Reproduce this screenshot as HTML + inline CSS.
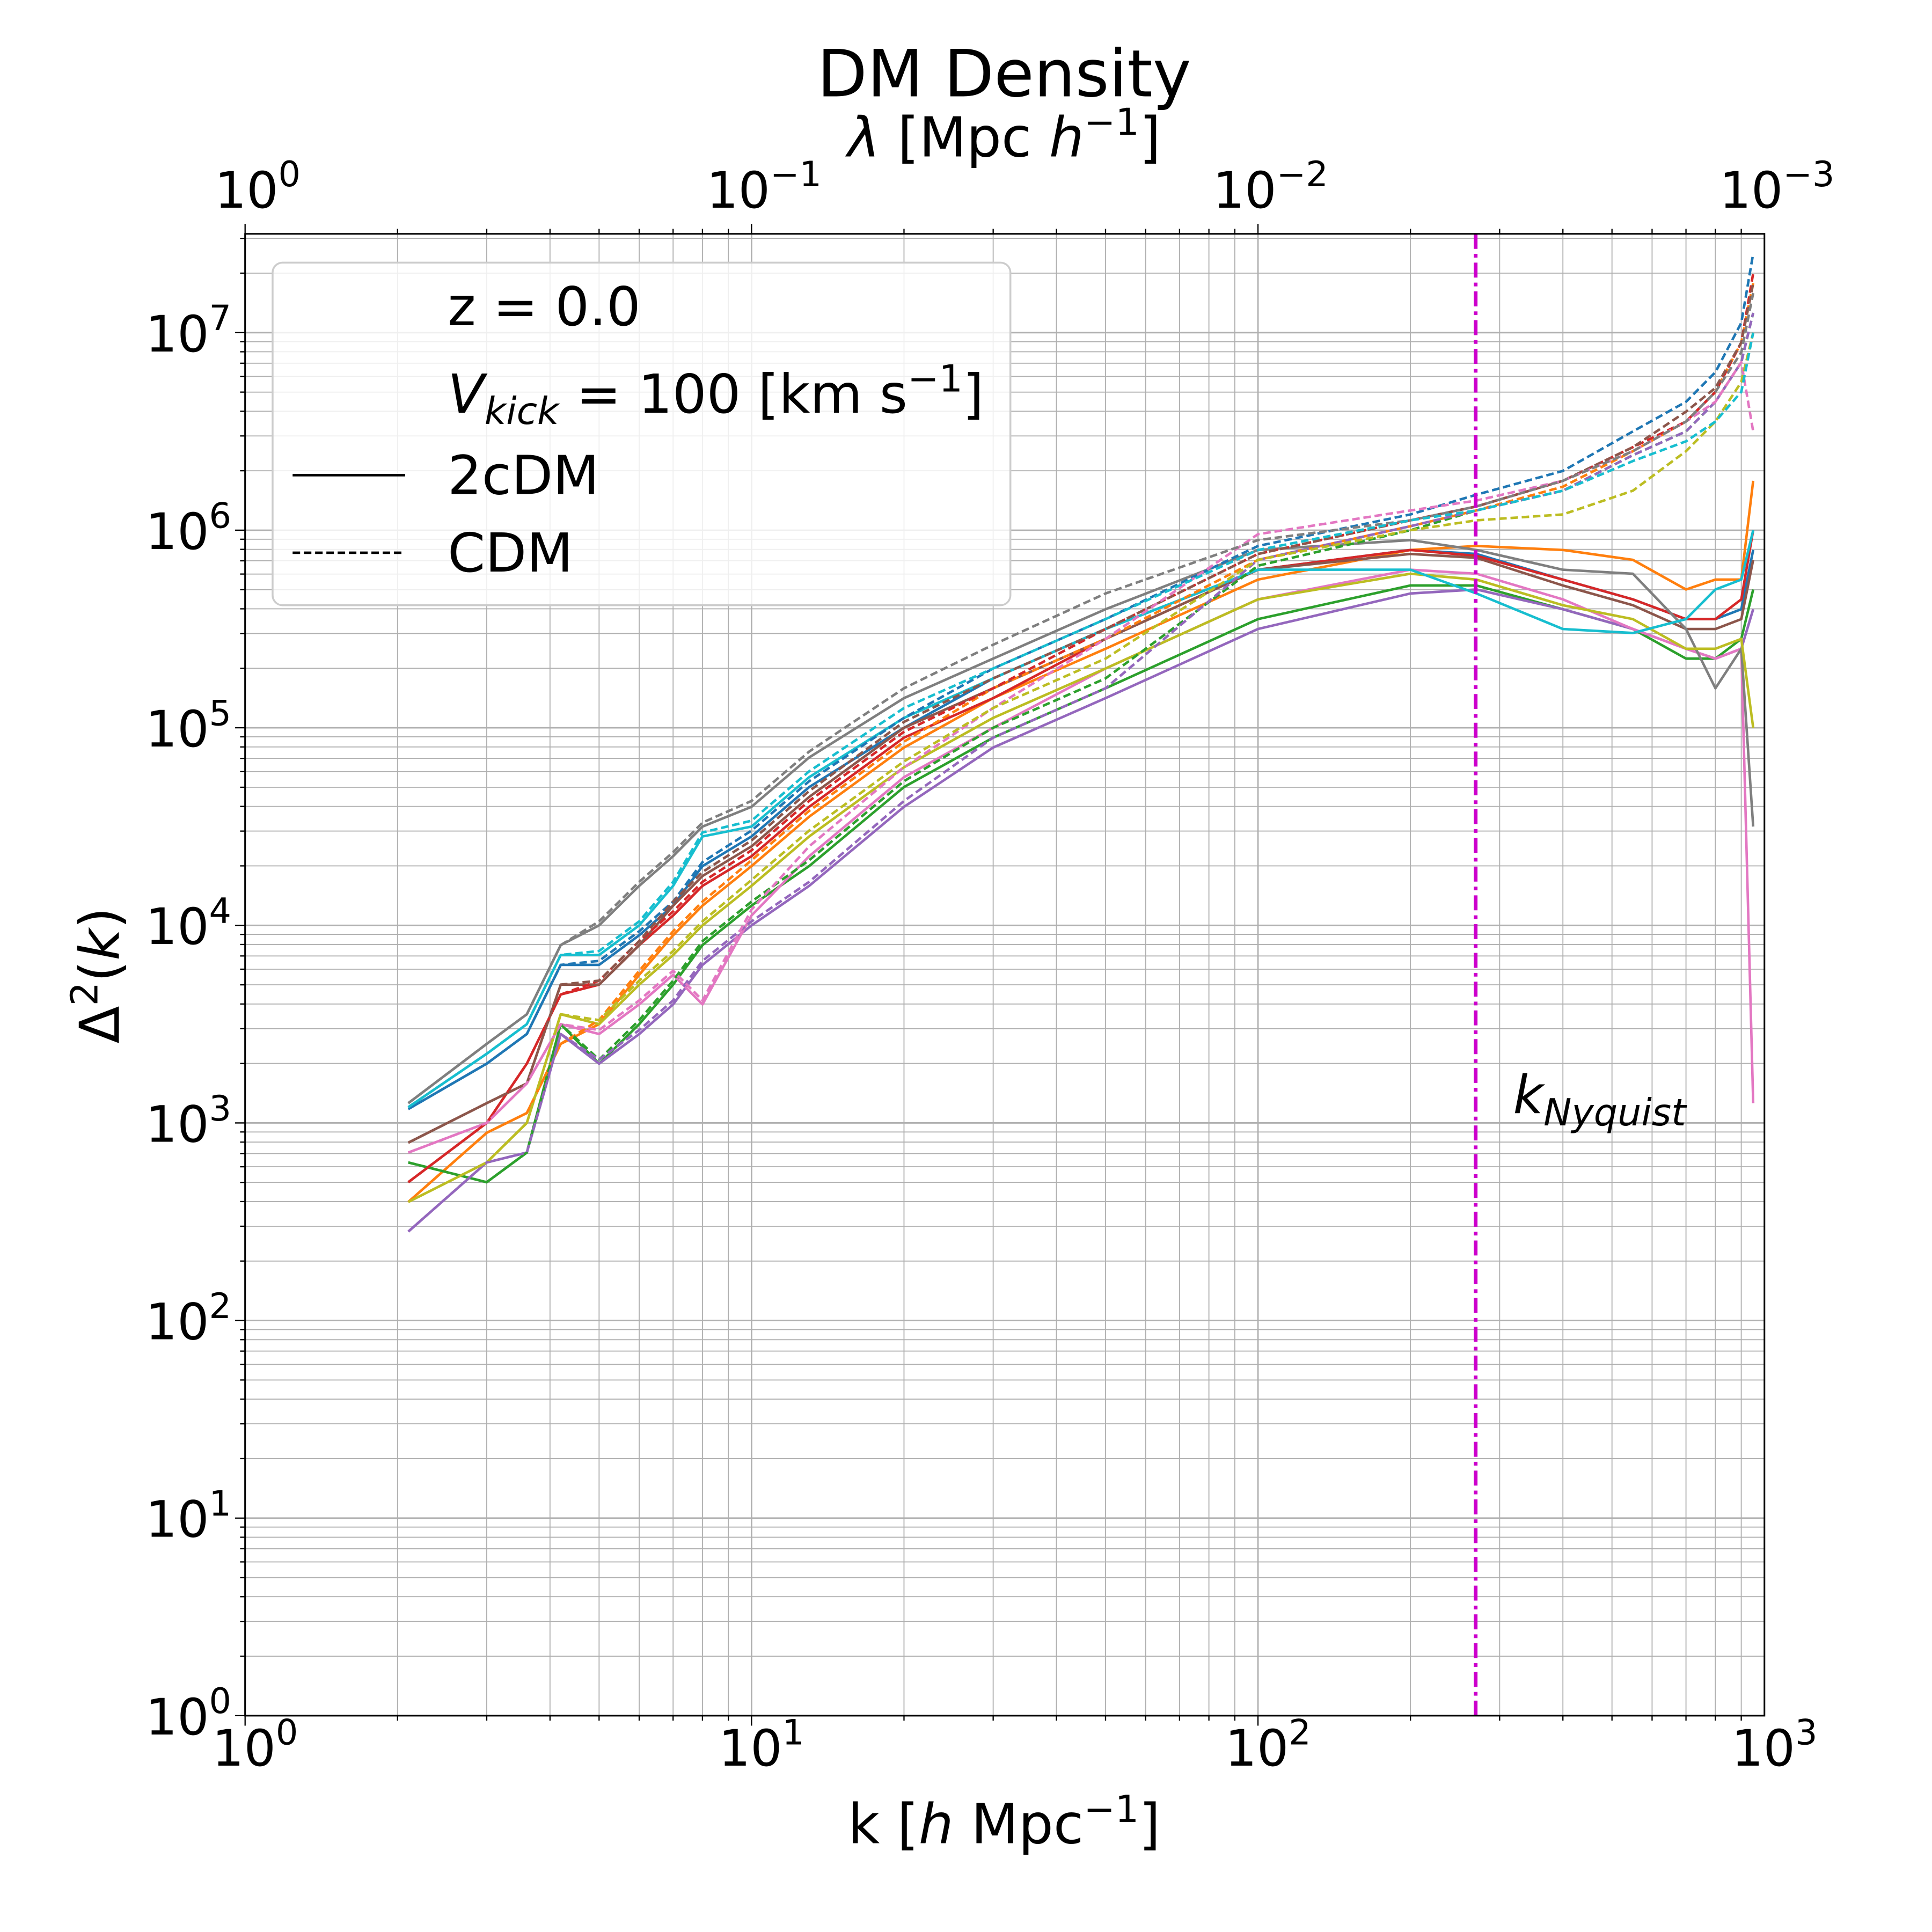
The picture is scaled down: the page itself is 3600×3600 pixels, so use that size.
<!DOCTYPE html>
<html><head><meta charset="utf-8"><style>html,body{margin:0;padding:0;background:#fff}svg{display:block}text{font-family:"DejaVu Sans","Liberation Sans",sans-serif}</style></head>
<body>
<svg id="chart" width="3600" height="3600" viewBox="0 0 1545 1545" xmlns="http://www.w3.org/2000/svg">
<rect width="1545" height="1545" fill="#fff"/>
<g id="grid"></g>
<g id="series"></g>
<g id="axes"></g>
<text x="803" y="77" font-size="52" text-anchor="middle">DM Density</text>
<text x="803" y="125" font-size="44" text-anchor="middle"><tspan font-style="italic">λ</tspan> [Mpc <tspan font-style="italic">h</tspan><tspan font-size="30" dy="-17">−1</tspan><tspan dy="17">]</tspan></text>
<text x="803" y="1474" font-size="44" text-anchor="middle">k [<tspan font-style="italic">h</tspan> Mpc<tspan font-size="30" dy="-17">−1</tspan><tspan dy="17">]</tspan></text>
<text transform="translate(95,780) rotate(-90)" font-size="44" text-anchor="middle">Δ<tspan font-size="30" dy="-17">2</tspan><tspan dy="17">(</tspan><tspan font-style="italic">k</tspan>)</text>
<g>
<rect x="218" y="210" width="590" height="274" rx="8" fill="#fff" fill-opacity="0.8" stroke="#ccc" stroke-width="1.5"/>
<text x="358" y="260" font-size="43">z = 0.0</text>
<text x="358" y="330" font-size="43"><tspan font-style="italic">V</tspan><tspan font-style="italic" font-size="30" dy="9">kick</tspan><tspan dy="-9"> = 100 [km s</tspan><tspan font-size="30" dy="-17">−1</tspan><tspan dy="17">]</tspan></text>
<line x1="234" y1="380" x2="324" y2="380" stroke="#000" stroke-width="2"/>
<text x="358" y="395" font-size="43">2cDM</text>
<line x1="234" y1="442" x2="324" y2="442" stroke="#000" stroke-width="2" stroke-dasharray="6,3"/>
<text x="358" y="457" font-size="43">CDM</text>
</g>
<text x="1210" y="890" font-size="42" font-style="italic">k<tspan font-size="30" dy="10">Nyquist</tspan></text>
<script>
const kGrid=[2.1,3,3.6,4.2,5,6,7,8,10,13,20,30,50,100,200,270,400,550,700,800,900,950];
const colors=["#1f77b4","#ff7f0e","#2ca02c","#d62728","#9467bd","#8c564b","#e377c2","#7f7f7f","#bcbd22","#17becf"];
const solidBlue=[3.07,3.3,3.45,3.8,3.8,3.95,4.1,4.3,4.45,4.7,5.0,5.25,5.5,5.8,5.9,5.88,5.75,5.65,5.55,5.55,5.6,5.9];
const solidOrange=[2.6,2.95,3.05,3.4,3.5,3.75,3.95,4.1,4.3,4.55,4.9,5.15,5.4,5.75,5.9,5.92,5.9,5.85,5.7,5.75,5.75,6.25];
const solidGreen=[2.8,2.7,2.85,3.5,3.3,3.5,3.7,3.9,4.1,4.3,4.7,4.95,5.2,5.55,5.72,5.72,5.6,5.5,5.35,5.35,5.45,5.7];
const solidRed=[2.7,3.0,3.3,3.65,3.7,3.9,4.05,4.2,4.35,4.6,4.95,5.15,5.45,5.8,5.9,5.87,5.75,5.65,5.55,5.55,5.65,6.0];
const solidPurple=[2.45,2.8,2.85,3.45,3.3,3.45,3.6,3.8,4.0,4.2,4.6,4.9,5.15,5.5,5.68,5.7,5.6,5.5,5.4,5.35,5.4,5.6];
const solidBrown=[2.9,3.1,3.2,3.7,3.7,3.9,4.1,4.25,4.4,4.65,5.0,5.2,5.45,5.8,5.88,5.86,5.72,5.62,5.5,5.5,5.55,5.85];
const solidPink=[2.85,3.0,3.2,3.5,3.45,3.6,3.75,3.6,4.05,4.35,4.75,5.0,5.3,5.65,5.8,5.78,5.65,5.5,5.4,5.35,5.4,3.1];
const solidGray=[3.1,3.4,3.55,3.9,4.0,4.2,4.35,4.5,4.6,4.85,5.15,5.35,5.6,5.9,5.95,5.9,5.8,5.78,5.5,5.2,5.4,4.5];
const solidOlive=[2.6,2.8,3.0,3.55,3.5,3.7,3.85,4.0,4.2,4.45,4.8,5.05,5.3,5.65,5.78,5.75,5.62,5.55,5.4,5.4,5.45,5.0];
const solidCyan=[3.08,3.35,3.5,3.85,3.85,4.0,4.2,4.45,4.5,4.75,5.05,5.25,5.5,5.8,5.8,5.68,5.5,5.48,5.55,5.7,5.75,6.0];
const dashBlue=[3.07,3.3,3.45,3.8,3.82,3.97,4.12,4.32,4.48,4.73,5.05,5.3,5.55,5.92,6.08,6.18,6.3,6.5,6.65,6.8,7.05,7.4];
const dashOrange=[2.6,2.95,3.05,3.4,3.52,3.77,3.97,4.12,4.33,4.58,4.93,5.2,5.45,5.85,6.02,6.1,6.22,6.4,6.55,6.7,6.95,7.25];
const dashGreen=[2.8,2.7,2.85,3.5,3.32,3.52,3.72,3.92,4.12,4.33,4.73,5.0,5.25,5.82,6.0,6.1,6.2,6.38,6.5,6.65,6.85,7.1];
const dashRed=[2.7,3.0,3.3,3.65,3.72,3.92,4.07,4.22,4.38,4.63,4.98,5.2,5.5,5.88,6.05,6.12,6.25,6.42,6.55,6.7,6.95,7.3];
const dashPurple=[2.45,2.8,2.85,3.45,3.32,3.47,3.62,3.82,4.02,4.22,4.63,4.95,5.2,5.85,6.02,6.1,6.2,6.38,6.5,6.65,6.85,7.1];
const dashBrown=[2.9,3.1,3.2,3.7,3.72,3.92,4.12,4.27,4.43,4.68,5.03,5.25,5.5,5.88,6.05,6.12,6.25,6.42,6.6,6.72,6.95,7.25];
const dashPink=[2.85,3.0,3.2,3.5,3.47,3.62,3.77,3.62,4.08,4.4,4.8,5.1,5.45,5.98,6.1,6.15,6.25,6.4,6.55,6.65,6.85,6.5];
const dashGray=[3.1,3.4,3.55,3.9,4.02,4.22,4.37,4.52,4.63,4.88,5.2,5.42,5.68,5.95,6.05,6.12,6.25,6.4,6.55,6.7,6.9,7.2];
const dashOlive=[2.6,2.8,3.0,3.55,3.52,3.72,3.87,4.02,4.23,4.48,4.83,5.1,5.35,5.85,6.0,6.05,6.08,6.2,6.4,6.55,6.75,7.0];
const dashCyan=[3.08,3.35,3.5,3.85,3.87,4.02,4.22,4.47,4.53,4.78,5.1,5.3,5.55,5.9,6.05,6.1,6.2,6.35,6.45,6.55,6.7,7.0];
const solidSeries=[solidBlue,solidOrange,solidGreen,solidRed,solidPurple,solidBrown,solidPink,solidGray,solidOlive,solidCyan];
const dashSeries=[dashBlue,dashOrange,dashGreen,dashRed,dashPurple,dashBrown,dashPink,dashGray,dashOlive,dashCyan];
const seriesNames=["blue","orange","green","red","purple","brown","pink","gray","olive","cyan"];
const xTickLabels=["0","1","2","3"];
const topTickLabels=["0","−1","−2","−3"];
const yTickLabels=["0","1","2","3","4","5","6","7"];
const kNyquist=269;

const L=196,R=1411,T=187,B=1372,YMAX=7.5;
const NS="http://www.w3.org/2000/svg";
function X(k){return L+Math.log10(k)/3*(R-L);}
function Y(v){return B-v/YMAX*(B-T);}
function mk(tag,attrs,parent){const e=document.createElementNS(NS,tag);for(const a in attrs)e.setAttribute(a,attrs[a]);parent.appendChild(e);return e;}
const grid=document.getElementById('grid'),axes=document.getElementById('axes'),ser=document.getElementById('series');
for(let d=0;d<3;d++)for(let m=1;m<10;m++){const k=m*Math.pow(10,d);const x=X(k);
 const g=mk('line',{x1:x,x2:x,y1:T,y2:B,stroke:'#b0b0b0','stroke-width':m===1?1.2:0.8},grid);
 
 
 const t1=mk('line',{x1:x,x2:x,y1:B,y2:B+(m===1?8:4),stroke:'#000','stroke-width':1},axes);
 
 
 const t2=mk('line',{x1:x,x2:x,y1:T,y2:T-(m===1?8:4),stroke:'#000','stroke-width':1},axes);
 
 }
for(let d=0;d<8;d++)for(let m=1;m<10;m++){const v=d+Math.log10(m);if(v>YMAX)continue;const y=Y(v);
 const g=mk('line',{x1:L,x2:R,y1:y,y2:y,stroke:'#b0b0b0','stroke-width':m===1?1.2:0.8},grid);
 
 
 const t=mk('line',{x1:L,x2:L-(m===1?8:4),y1:y,y2:y,stroke:'#000','stroke-width':1},axes);
 
 }
const frame=mk('rect',{x:L,y:T,width:R-L,height:B-T,fill:'none',stroke:'#000','stroke-width':1.3},axes);


function powLabel(x,y,exp,anchor,name){const t=mk('text',{x:x,y:y,'font-size':40,'text-anchor':anchor},axes);
 
 
 const a=mk('tspan',{},t);a.textContent='10';
 const b=mk('tspan',{'font-size':28,dy:-17},t);b.textContent=exp;}
xTickLabels.forEach((e,i)=>powLabel(X(Math.pow(10,i))+8,1412,e,'middle','x-tick-label'));
topTickLabels.forEach((e,i)=>powLabel(X(Math.pow(10,i))+10,166,e,'middle','top-tick-label'));
yTickLabels.forEach((e,i)=>powLabel(185,Y(i)+15,e,'end','y-tick-label'));
function draw(arr,color,dash,name){const d=arr.map((v,i)=>(i?'L':'M')+X(kGrid[i]).toFixed(1)+','+Y(v).toFixed(1)).join(' ');
 const p=mk('path',{d:d,fill:'none',stroke:color,'stroke-width':2,'stroke-linejoin':'round'},ser);
 if(dash)p.setAttribute('stroke-dasharray','6,3');
 
 }
solidSeries.forEach((a,i)=>draw(a,colors[i],false,'2cdm-'+seriesNames[i]));
dashSeries.forEach((a,i)=>draw(a,colors[i],true,'cdm-'+seriesNames[i]));
const ny=mk('line',{x1:X(kNyquist),x2:X(kNyquist),y1:T,y2:B,stroke:'#cc00cc','stroke-width':3,'stroke-dasharray':'12,4,3,4'},ser);


</script>
</svg>
</body></html>
